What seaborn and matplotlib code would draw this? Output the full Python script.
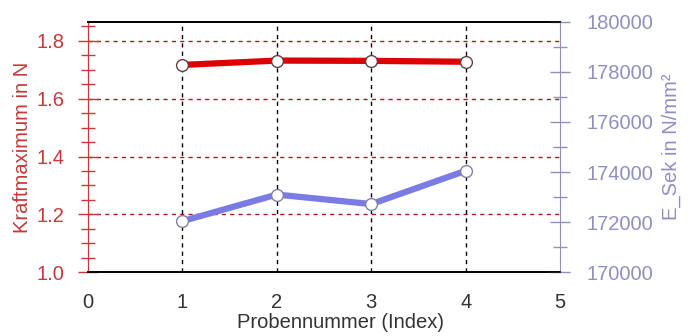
import pandas as pd
import matplotlib
matplotlib.use('Agg')
import matplotlib.pyplot as plt
from matplotlib.ticker import MultipleLocator
import seaborn as sns

probe = [1, 2, 3, 4]
kraft = [1.717, 1.732, 1.731, 1.728]
e_sek = [172040, 173100, 172720, 174050]

df = pd.DataFrame({'Probe': probe, 'Kraft': kraft, 'ESek': e_sek})

sns.set_style('white')
plt.rcParams['font.family'] = ['Liberation Sans', 'DejaVu Sans']

red = '#dd0000'
red_axis = '#c83838'
blue = '#7b7be6'
blue_axis = '#9090c0'
fs = 14.5

fig, ax = plt.subplots(figsize=(6.88, 3.36), dpi=100)
fig.subplots_adjust(left=0.128, right=0.814, top=0.935, bottom=0.19)
ax2 = ax.twinx()

# grid lines
for y in [1.2, 1.4, 1.6, 1.8]:
    ax.axhline(y, color='#a02020', ls=(0, (3, 3)), lw=1, zorder=0)
for x in probe:
    ax.axvline(x, color='black', ls=(0, (3, 3)), lw=1, zorder=0)

sns.lineplot(data=df, x='Probe', y='Kraft', ax=ax, color=red, lw=4.5,
             marker='o', markersize=8.5, markerfacecolor='white',
             markeredgecolor='#604040', markeredgewidth=1, zorder=3)
sns.lineplot(data=df, x='Probe', y='ESek', ax=ax2, color=blue, lw=4.5,
             marker='o', markersize=8.5, markerfacecolor='white',
             markeredgecolor='#8080a0', markeredgewidth=1, zorder=3)

ax.set_xlim(0, 5)
ax.set_ylim(1.0, 1.866)
ax2.set_ylim(170000, 180000)
ax.set_xticks([0, 1, 2, 3, 4, 5])
ax.yaxis.set_major_locator(MultipleLocator(0.2))
ax.yaxis.set_minor_locator(MultipleLocator(0.05))
ax2.yaxis.set_major_locator(MultipleLocator(2000))
ax2.yaxis.set_minor_locator(MultipleLocator(1000))
ax.yaxis.set_major_formatter(matplotlib.ticker.FormatStrFormatter('%.1f'))

ax.set_xlabel('Probennummer (Index)', fontsize=fs, color='#333333', labelpad=2)
ax.xaxis.set_label_coords(0.535, -0.165)
ax.set_ylabel('Kraftmaximum in N', fontsize=fs, color=red_axis, labelpad=3)
ax2.set_ylabel('E_Sek in N/mm²', fontsize=fs, color=blue_axis, labelpad=6)

ax.tick_params(axis='x', direction='inout', length=12, width=1.2,
               colors='black', labelsize=fs, labelcolor='#333333', pad=9)
ax.tick_params(axis='y', which='major', direction='inout', length=14, width=1,
               colors=red_axis, labelsize=fs, pad=10)
ax.tick_params(axis='y', which='minor', direction='inout', length=10, width=1,
               colors=red_axis, left=True)
ax2.tick_params(axis='y', which='major', direction='inout', length=14, width=1,
                colors=blue_axis, labelsize=fs, pad=12)
ax2.tick_params(axis='y', which='minor', direction='inout', length=10, width=1,
                colors=blue_axis, right=True)

for a in (ax, ax2):
    a.spines['top'].set_color('black')
    a.spines['bottom'].set_color('black')
    a.spines['top'].set_linewidth(1.2)
    a.spines['bottom'].set_linewidth(1.2)
ax2.spines['left'].set_color(red_axis)
ax2.spines['right'].set_color(blue_axis)
ax.spines['left'].set_color(red_axis)
ax.spines['right'].set_visible(False)

fig.savefig('out.png', dpi=100)
